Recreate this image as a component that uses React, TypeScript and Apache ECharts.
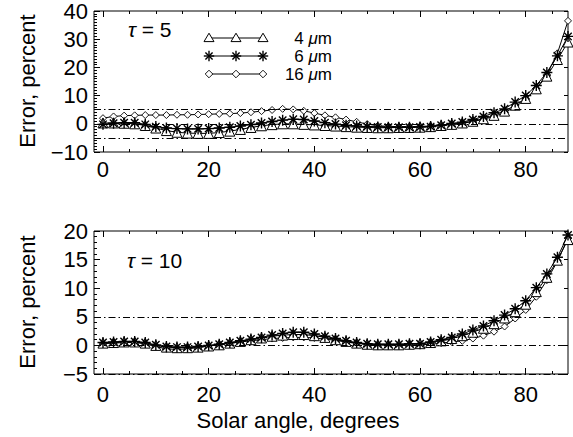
import React, { useEffect, useRef } from 'react';
import * as echarts from 'echarts';

// Solar zenith angle (degrees)
const angles = [0, 2, 4, 6, 8, 10, 12, 14, 16, 18, 20, 22, 24, 26, 28, 30, 32, 34, 36, 38, 40, 42, 44,
  46, 48, 50, 52, 54, 56, 58, 60, 62, 64, 66, 68, 70, 72, 74, 76, 78, 80, 82, 84, 86, 88];

// tau = 5 panel (percent error)
const top4 = [0.3, 0.3, 0.2, 0.0, -0.6, -1.5, -2.4, -3.0, -3.3, -3.4, -3.4, -3.1, -2.6, -2.0, -1.3, -0.7,
  -0.3, 0.0, 0.0, -0.2, -0.4, -0.6, -0.8, -1.0, -1.2, -1.3, -1.4, -1.4, -1.3, -1.3, -1.2, -1.0, -0.6,
  -0.2, 0.3, 0.9, 1.8, 3.0, 4.5, 6.6, 9.0, 12.4, 16.9, 22.8, 29.0];
const top6 = [-0.2, 0.2, 0.4, 0.4, -0.2, -1.0, -1.5, -1.7, -1.8, -1.8, -1.7, -1.5, -1.2, -0.8, -0.3, 0.3,
  0.8, 1.3, 1.6, 1.5, 1.0, 0.4, -0.1, -0.5, -0.8, -1.0, -1.1, -1.2, -1.2, -1.2, -1.1, -1.0, -0.5, 0.1,
  0.6, 1.5, 2.6, 3.9, 5.3, 7.7, 10.0, 13.6, 18.2, 24.1, 31.0];
const top16 = [2.0, 2.6, 2.9, 3.0, 3.1, 3.1, 3.1, 3.2, 3.2, 3.3, 3.4, 3.5, 3.6, 3.8, 4.1, 4.5, 4.9, 5.3,
  5.1, 4.6, 3.8, 3.0, 2.3, 1.5, 0.7, -0.1, -0.7, -0.9, -1.0, -1.0, -0.9, -0.8, -0.5, -0.2, 0.2, 0.8,
  1.6, 2.6, 4.0, 6.0, 8.6, 12.5, 17.5, 25.0, 36.5];

// tau = 10 panel (percent error)
const bot4 = [0.4, 0.5, 0.6, 0.6, 0.4, 0.0, -0.3, -0.4, -0.4, -0.3, -0.1, 0.1, 0.4, 0.7, 1.0, 1.3, 1.6,
  1.8, 1.9, 1.9, 1.7, 1.4, 1.0, 0.7, 0.4, 0.2, 0.1, 0.1, 0.1, 0.2, 0.3, 0.5, 0.8, 1.2, 1.7, 2.3, 3.0,
  3.8, 4.8, 5.9, 7.2, 9.4, 11.9, 14.9, 18.5];
const bot6 = [0.5, 0.6, 0.7, 0.7, 0.5, 0.1, -0.2, -0.3, -0.3, -0.2, 0.0, 0.2, 0.5, 0.8, 1.1, 1.4, 1.8,
  2.1, 2.3, 2.3, 2.0, 1.6, 1.2, 0.8, 0.5, 0.3, 0.2, 0.2, 0.2, 0.3, 0.3, 0.6, 1.0, 1.4, 2.0, 2.7, 3.4,
  4.3, 5.3, 6.4, 7.8, 10.1, 12.5, 15.4, 19.3];
const bot16 = [0.3, 0.4, 0.5, 0.5, 0.3, -0.2, -0.6, -0.7, -0.6, -0.4, -0.1, 0.2, 0.4, 0.6, 0.8, 1.0, 1.2,
  1.3, 1.4, 1.4, 1.3, 1.1, 0.9, 0.6, 0.4, 0.2, 0.1, 0.0, 0.0, 0.0, 0.1, 0.2, 0.4, 0.6, 0.8, 1.2, 1.7,
  2.4, 3.3, 4.7, 6.2, 8.5, 11.4, 14.7, 18.8];

const xMajorTicks = [0, 20, 40, 60, 80];
const xMinorTicks = [0, 5, 10, 15, 20, 25, 30, 35, 40, 45, 50, 55, 60, 65, 70, 75, 80, 85];
const refLinesTop = [5, 0, -5];
const refLinesBot = [5, 0, -5];
const legendSizes = ['4', '6', '16'];
const tauValues = ['5', '10'];

const FONT = '"Liberation Sans", Arial, Helvetica, sans-serif';
const XMIN = -1.7;
const XMAX = 88;
const ASTERISK = 'path://M5 0L5 10M0 5L10 5M1.6 1.6L8.4 8.4M1.6 8.4L8.4 1.6';

function fmtY(v: number) {
  return v < 0 ? '\u2212' + Math.abs(v) : String(v);
}

const noLine = { show: false, onZero: false };

function xAxesFor(gridIndex: number, labelMargin: number) {
  const base = {
    type: 'value', gridIndex, min: XMIN, max: XMAX,
    axisLine: noLine, splitLine: { show: false },
  };
  const tickStyle = { color: '#000', width: 1 };
  return [
    { ...base, position: 'bottom',
      axisTick: { show: true, inside: true, length: 6, customValues: xMajorTicks, lineStyle: tickStyle },
      axisLabel: { show: true, customValues: xMajorTicks, margin: labelMargin, color: '#000', fontSize: 22, fontFamily: FONT } },
    { ...base, position: 'bottom',
      axisTick: { show: true, inside: true, length: 3, customValues: xMinorTicks, lineStyle: tickStyle },
      axisLabel: { show: false } },
    { ...base, position: 'top',
      axisTick: { show: true, inside: true, length: 6, customValues: xMajorTicks, lineStyle: tickStyle },
      axisLabel: { show: false } },
    { ...base, position: 'top',
      axisTick: { show: true, inside: true, length: 3, customValues: xMinorTicks, lineStyle: tickStyle },
      axisLabel: { show: false } },
  ];
}

function yAxesFor(gridIndex: number, min: number, max: number, interval: number, minorSplit: number) {
  const tickStyle = { color: '#000', width: 1 };
  return [
    { type: 'value', gridIndex, min, max, interval, position: 'left',
      axisLine: noLine, splitLine: { show: false },
      axisTick: { show: true, inside: true, length: 6, lineStyle: tickStyle },
      minorTick: { show: true, splitNumber: minorSplit, length: 3, lineStyle: tickStyle },
      minorSplitLine: { show: false },
      axisLabel: { show: true, margin: 6, color: '#000', fontSize: 22, fontFamily: FONT, formatter: fmtY,
        showMinLabel: true, showMaxLabel: true } },
    { type: 'value', gridIndex, min, max, interval, position: 'right',
      axisLine: noLine, splitLine: { show: false },
      axisTick: { show: true, inside: true, length: 4, lineStyle: tickStyle },
      axisLabel: { show: false } },
  ];
}

function seriesFor(xIdx: number, yIdx: number, d4: number[], d6: number[], d16: number[], refs: number[]) {
  const line = { color: '#000', width: 1 };
  return [
    { name: '16 um', type: 'line', xAxisIndex: xIdx, yAxisIndex: yIdx,
      data: angles.map((a, i) => [a, d16[i]]),
      symbol: 'diamond', symbolSize: 7, lineStyle: line,
      itemStyle: { color: '#fff', borderColor: '#000', borderWidth: 0.9 }, z: 3,
      markLine: { silent: true, symbol: ['none', 'none'], label: { show: false },
        lineStyle: { color: '#000', width: 1, type: [7, 3, 1.5, 3] },
        data: refs.map((v) => ({ yAxis: v })) } },
    { name: '4 um', type: 'line', xAxisIndex: xIdx, yAxisIndex: yIdx,
      data: angles.map((a, i) => [a, d4[i]]),
      symbol: 'triangle', symbolSize: 10, lineStyle: line,
      itemStyle: { color: '#fff', borderColor: '#000', borderWidth: 1 }, z: 4 },
    { name: '6 um', type: 'line', xAxisIndex: xIdx, yAxisIndex: yIdx,
      data: angles.map((a, i) => [a, d6[i]]),
      symbol: ASTERISK, symbolSize: 11, lineStyle: line,
      itemStyle: { color: '#000', borderColor: '#000', borderWidth: 1.4 }, z: 5 },
  ];
}

function legendGraphics() {
  const rows = [38, 56, 74];
  const xs = [209, 236, 263];
  const els: any[] = [];
  rows.forEach((y, r) => {
    els.push({ type: 'polyline', shape: { points: [[xs[0], y], [xs[2], y]] }, style: { stroke: '#000', lineWidth: 1, fill: null } });
    xs.forEach((cx) => {
      if (r === 0) {
        els.push({ type: 'polygon', shape: { points: [[cx, y - 4.8], [cx + 5, y + 3.6], [cx - 5, y + 3.6]] },
          style: { fill: '#fff', stroke: '#000', lineWidth: 1 } });
      } else if (r === 1) {
        const s = 5.2, d = 3.6;
        els.push({ type: 'line', shape: { x1: cx, y1: y - s, x2: cx, y2: y + s }, style: { stroke: '#000', lineWidth: 1.4 } });
        els.push({ type: 'line', shape: { x1: cx - s, y1: y, x2: cx + s, y2: y }, style: { stroke: '#000', lineWidth: 1.4 } });
        els.push({ type: 'line', shape: { x1: cx - d, y1: y - d, x2: cx + d, y2: y + d }, style: { stroke: '#000', lineWidth: 1.4 } });
        els.push({ type: 'line', shape: { x1: cx - d, y1: y + d, x2: cx + d, y2: y - d }, style: { stroke: '#000', lineWidth: 1.4 } });
      } else {
        els.push({ type: 'polygon', shape: { points: [[cx, y - 3.8], [cx + 3.8, y], [cx, y + 3.8], [cx - 3.8, y]] },
          style: { fill: '#fff', stroke: '#000', lineWidth: 0.9 } });
      }
    });
    els.push({ type: 'text', x: 332, y, style: {
      text: legendSizes[r] + ' {i|\u03bc}m', align: 'right', verticalAlign: 'middle',
      fontSize: 17, fontFamily: FONT, fill: '#000',
      rich: { i: { fontStyle: 'italic', fontSize: 17, fontFamily: FONT, fill: '#000' } } } });
  });
  return els;
}

export default function App() {
  const ref = useRef<HTMLDivElement>(null);
  useEffect(() => {
    if (!ref.current) return;
    const chart = echarts.init(ref.current, null, { renderer: 'svg' });
    const option: any = {
      animation: false,
      backgroundColor: '#fff',
      grid: [
        { left: 94, top: 10, width: 474, height: 142, show: true, borderColor: '#000', borderWidth: 1, backgroundColor: 'transparent' },
        { left: 94, top: 231, width: 474, height: 143, show: true, borderColor: '#000', borderWidth: 1, backgroundColor: 'transparent' },
      ],
      xAxis: [...xAxesFor(0, 6), ...xAxesFor(1, 9)],
      yAxis: [...yAxesFor(0, -10, 40, 10, 10), ...yAxesFor(1, -5, 20, 5, 5)],
      series: [...seriesFor(0, 0, top4, top6, top16, refLinesTop), ...seriesFor(4, 2, bot4, bot6, bot16, refLinesBot)],
      graphic: [
        { type: 'text', x: 27, y: 81, rotation: Math.PI / 2,
          style: { text: 'Error, percent', align: 'center', verticalAlign: 'middle', fontSize: 22, fontFamily: FONT, fill: '#000' } },
        { type: 'text', x: 27, y: 302, rotation: Math.PI / 2,
          style: { text: 'Error, percent', align: 'center', verticalAlign: 'middle', fontSize: 22, fontFamily: FONT, fill: '#000' } },
        { type: 'text', x: 298, y: 420,
          style: { text: 'Solar angle, degrees', align: 'center', verticalAlign: 'middle', fontSize: 22, fontFamily: FONT, fill: '#000' } },
        { type: 'text', x: 128, y: 29,
          style: { text: '{i|\u03c4} = ' + tauValues[0], align: 'left', verticalAlign: 'middle', fontSize: 21, fontFamily: FONT, fill: '#000',
            rich: { i: { fontStyle: 'italic', fontSize: 21, fontFamily: FONT, fill: '#000' } } } },
        { type: 'text', x: 127, y: 260,
          style: { text: '{i|\u03c4} = ' + tauValues[1], align: 'left', verticalAlign: 'middle', fontSize: 21, fontFamily: FONT, fill: '#000',
            rich: { i: { fontStyle: 'italic', fontSize: 21, fontFamily: FONT, fill: '#000' } } } },
        ...legendGraphics(),
      ],
    };
    chart.setOption(option);
    return () => chart.dispose();
  }, []);
  return <div ref={ref} style={{ position: 'absolute', left: 0, top: 0, width: 573, height: 437 }} />;
}
